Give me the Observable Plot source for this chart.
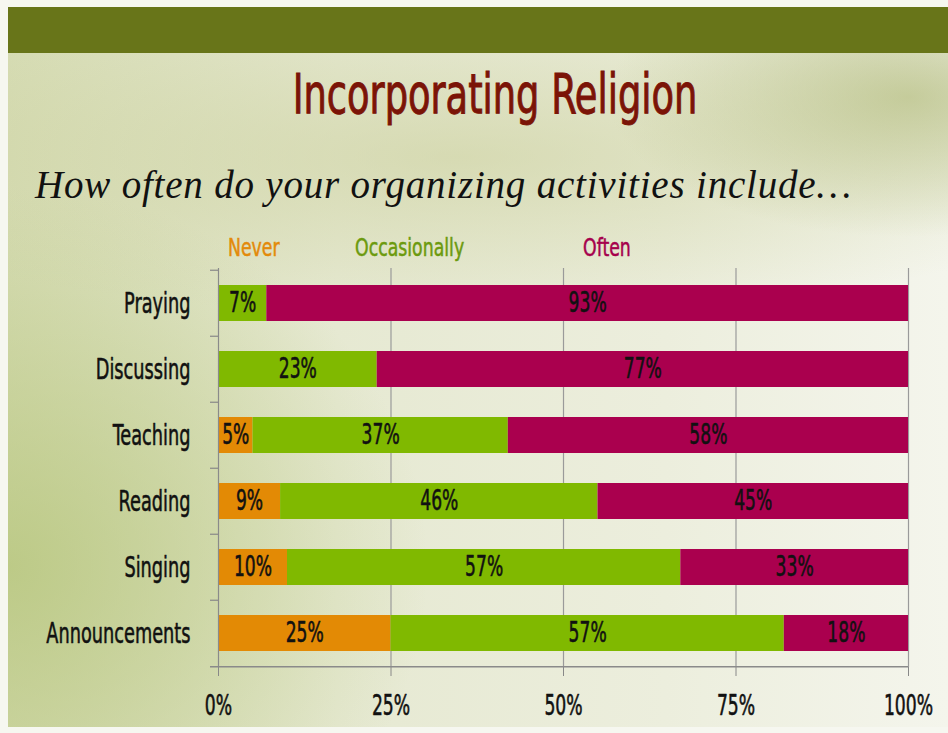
<!DOCTYPE html>
<html>
<head>
<meta charset="utf-8">
<script src="https://cdn.jsdelivr.net/npm/d3@7"></script>
<script src="https://cdn.jsdelivr.net/npm/@observablehq/plot@0.6"></script>
<style>
  html, body { margin: 0; padding: 0; }
  body { width: 948px; height: 733px; position: relative; overflow: hidden; background: #f6f7f0; }
  .slide {
    position: absolute; left: 8px; top: 7px; width: 940px; height: 720px; overflow: hidden;
    background:
      radial-gradient(ellipse 420px 380px at 0px 560px, rgba(180,196,120,0.75), rgba(180,196,120,0) 100%),
      radial-gradient(ellipse 300px 140px at 900px 90px, rgba(170,180,110,0.6), rgba(170,180,110,0) 100%),
      radial-gradient(ellipse 700px 160px at 450px 150px, rgba(200,205,150,0.55), rgba(200,205,150,0) 100%),
      linear-gradient(90deg, #d6dcb4 0%, #e6e9d2 35%, #eceedd 70%, #f4f5ec 100%);
  }
  .band { position: absolute; left: 8px; top: 7px; width: 940px; height: 46px; background: #687519; }
  .cond { font-family: "Liberation Sans Narrow", "DejaVu Sans Condensed", "Arial Narrow", sans-serif; }
  .title { position: absolute; left: 0; width: 990px; top: 66px; line-height: 1; text-align: center; font-size: 56px; color: #7b1407; -webkit-text-stroke: 1px #7b1407; transform: scaleX(0.73); transform-origin: 495px 0; }
  .subtitle { position: absolute; left: 35px; top: 162px; font-family: "Liberation Serif", "DejaVu Serif", serif; font-style: italic; font-size: 39px; color: #111; letter-spacing: 0.8px; white-space: nowrap; }
  .leg { position: absolute; top: 235px; font-size: 25px; line-height: 1; white-space: nowrap; transform: scaleX(0.77); transform-origin: 0 0; -webkit-text-stroke: 0.5px currentColor; }
  #chart { position: absolute; left: 0; top: 240px; }
</style>
</head>
<body>
<div class="slide"></div>
<div class="band"></div>
<div class="title cond">Incorporating Religion</div>
<div class="subtitle">How often do your organizing activities include…</div>
<div class="leg cond" style="left:228px;color:#e38a0a">Never</div>
<div class="leg cond" style="left:355px;color:#6c9a0e">Occasionally</div>
<div class="leg cond" style="left:583px;color:#a6004c">Often</div>
<div id="chart"></div>
<script>
const categories = ["Praying", "Discussing", "Teaching", "Reading", "Singing", "Announcements"];
const seriesNames = ["Never", "Occasionally", "Often"];
const never = [0, 0, 5, 9, 10, 25];
const occasionally = [7, 23, 37, 46, 57, 57];
const often = [93, 77, 58, 45, 33, 18];
const xTicks = [0, 0.25, 0.5, 0.75, 1];
const colors = ["#e38a05", "#80b900", "#aa004e"];

const seriesValues = [never, occasionally, often];
const rows = [];
categories.forEach((c, i) => {
  seriesNames.forEach((s, j) => {
    rows.push({category: c, series: s, order: j, value: seriesValues[j][i] / 100});
  });
});

const font = '"Liberation Sans Narrow", "DejaVu Sans Condensed", sans-serif';
const step = (667 - 268) / categories.length;

const chart = Plot.plot({
  width: 948,
  height: 493,
  marginLeft: 218,
  marginRight: 40,
  marginTop: 28,
  marginBottom: 66,
  style: {background: "transparent", fontFamily: font, overflow: "visible"},
  x: {domain: [0, 1], label: null},
  y: {domain: categories, paddingInner: 0.46, paddingOuter: 0.23, label: null},
  color: {domain: seriesNames, range: colors},
  marks: [
    Plot.ruleX(xTicks.slice(1), {stroke: "#9a9a9a", strokeWidth: 1.2}),
    Plot.barX(rows, Plot.stackX({x: "value", y: "category", fill: "series", order: "order", z: "series"})),
    Plot.text(rows, Plot.stackX({x: "value", y: "category", z: "series", order: "order",
      text: d => d.value > 0 ? Math.round(d.value * 100) + "%" : "", fill: "#111", fontSize: 28})),
    Plot.ruleY(categories, {y: d => d, x1: -0.0116, x2: 0, dy: -step / 2, stroke: "#888", strokeWidth: 1.2}),
    Plot.ruleY([categories[categories.length - 1]], {y: d => d, x1: -0.0116, x2: 1, dy: step / 2, stroke: "#8a8a8a", strokeWidth: 1.5}),
    Plot.ruleX([0], {stroke: "#8a8a8a", strokeWidth: 1.2}),
    Plot.axisX({ticks: xTicks, tickFormat: d3.format(".0%"), tickSize: 9, tickPadding: 18, fontSize: 29, stroke: "#888", fill: "#111"}),
    Plot.axisY({tickSize: 0, tickPadding: 28, fontSize: 29, fill: "#111"})
  ]
});
document.getElementById("chart").appendChild(chart);

// emulate the condensed, medium-weight typeface of the original slide
function condense(selector, s) {
  chart.querySelectorAll(selector).forEach(el => {
    const b = el.getBBox();
    const anchor = getComputedStyle(el).textAnchor;
    const ax = anchor === "middle" ? b.x + b.width / 2 : anchor === "end" ? b.x + b.width : b.x;
    const t = el.getAttribute("transform") || "";
    el.setAttribute("transform", `${t} translate(${ax},0) scale(${s},1) translate(${-ax},0)`);
    el.style.stroke = "#111";
    el.style.strokeWidth = "0.55px";
    el.style.strokeLinejoin = "round";
  });
}
condense('g[aria-label="x-axis tick label"] text', 0.66);
condense('g[aria-label="y-axis tick label"] text', 0.68);
condense('g[aria-label="text"] text', 0.68);
</script>
</body>
</html>
